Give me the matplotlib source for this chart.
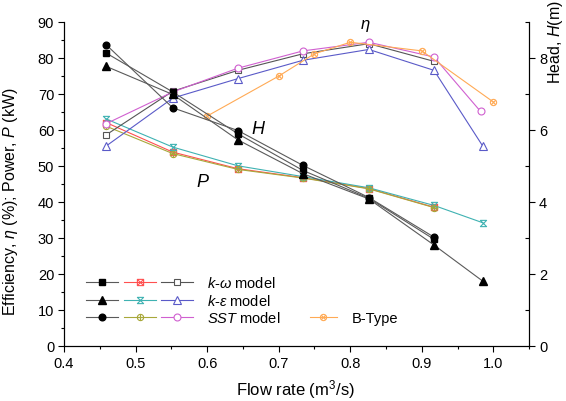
import matplotlib
matplotlib.use("Agg")
import matplotlib.pyplot as plt
from matplotlib.path import Path
from matplotlib.legend_handler import HandlerTuple
from matplotlib.ticker import MultipleLocator

plt.rcParams["font.family"] = ["Liberation Sans", "DejaVu Sans"]
plt.rcParams["mathtext.fontset"] = "custom"
plt.rcParams["mathtext.rm"] = "Liberation Sans"
plt.rcParams["mathtext.it"] = "Liberation Sans:italic"

# --- datos ---
q_kw = [0.459, 0.552, 0.643, 0.734, 0.826, 0.917]
q_ke = [0.459, 0.552, 0.643, 0.734, 0.826, 0.917, 0.985]
q_sst = [0.459, 0.552, 0.643, 0.734, 0.826, 0.917, 0.982]
q_btype = [0.60, 0.70, 0.75, 0.80, 0.90, 1.00]

head_kw = [8.13, 7.05, 5.89, 4.87, 4.10, 2.96]
head_ke = [7.76, 6.98, 5.72, 4.78, 4.08, 2.80, 1.80]
head_sst = [8.36, 6.61, 5.98, 5.01, 4.12, 3.02]

power_kw = [62.0, 53.8, 49.2, 46.7, 43.7, 38.5]
power_ke = [63.0, 55.2, 50.0, 47.0, 43.9, 39.0, 34.2]
power_sst = [61.0, 53.4, 49.0, 46.6, 43.6, 38.4]

eff_kw = [58.6, 70.7, 76.5, 81.1, 83.9, 79.0]
eff_ke = [55.5, 68.8, 74.2, 79.3, 82.3, 76.5, 55.5]
eff_sst = [61.7, 70.5, 77.1, 81.9, 84.3, 80.2, 65.1]
eff_btype = [63.8, 74.9, 81.1, 84.3, 81.9, 67.7]

# marcadores tipo Origin
M, L, C = Path.MOVETO, Path.LINETO, Path.CLOSEPOLY
box_x = Path([(-1, -1), (1, -1), (1, 1), (-1, 1), (-1, -1), (-1, -1), (1, 1), (-1, 1), (1, -1)],
             [M, L, L, L, C, M, L, M, L])
hourglass = Path([(-1, 1), (1, 1), (-1, -1), (1, -1), (-1, 1)], [M, L, L, L, C])
d = 0.7071
circ_plus = Path.make_compound_path(Path.unit_circle(), Path([(-1, 0), (1, 0)]), Path([(0, -1), (0, 1)]))
circ_x = Path.make_compound_path(Path.unit_circle(), Path([(-d, -d), (d, d)]), Path([(-d, d), (d, -d)]))

c_head = "#5a5a5a"
c_red = "#ff5050"
c_cyan = "#3fb2b2"
c_olive = "#a8a83a"
c_gray = "#555555"
c_blue = "#5a5ac8"
c_pink = "#d060d0"
c_orange = "#ffaa55"

lw = 0.8
ms = 4.5

fig = plt.figure(figsize=(5.66, 4.02), dpi=100)
ax = fig.add_axes([0.113, 0.137, 0.822, 0.8065])
ax2 = ax.twinx()

# potencia y eficiencia (eje izquierdo)
p1, = ax.plot(q_kw, power_kw, color=c_red, lw=lw, marker=box_x, ms=ms, mfc="none", mec=c_red, mew=0.8)
p2, = ax.plot(q_ke, power_ke, color=c_cyan, lw=lw, marker=hourglass, ms=ms, mfc="none", mec=c_cyan, mew=0.8)
p3, = ax.plot(q_sst[:6], power_sst, color=c_olive, lw=lw, marker=circ_plus, ms=ms, mfc="none", mec=c_olive, mew=0.8)

e1, = ax.plot(q_kw, eff_kw, color=c_gray, lw=lw, marker="s", ms=ms, mfc="white", mec=c_gray, mew=0.8)
e2, = ax.plot(q_ke, eff_ke, color=c_blue, lw=lw, marker="^", ms=ms + 0.8, mfc="white", mec=c_blue, mew=0.8)
e3, = ax.plot(q_sst, eff_sst, color=c_pink, lw=lw, marker="o", ms=ms + 0.5, mfc="white", mec=c_pink, mew=0.8)
eb, = ax.plot(q_btype, eff_btype, color=c_orange, lw=lw, marker=circ_x, ms=ms, mfc="none", mec=c_orange, mew=0.8)

# altura (eje derecho)
h1, = ax2.plot(q_kw, head_kw, color=c_head, lw=lw, marker="s", ms=ms, mfc="black", mec="black")
h2, = ax2.plot(q_ke, head_ke, color=c_head, lw=lw, marker="^", ms=ms + 0.8, mfc="black", mec="black")
h3, = ax2.plot(q_sst[:6], head_sst, color=c_head, lw=lw, marker="o", ms=ms + 0.3, mfc="black", mec="black")

ax.set_xlim(0.4, 1.05)
ax.set_ylim(0, 90)
ax2.set_ylim(0, 9)

ax.xaxis.set_major_locator(MultipleLocator(0.1))
ax.xaxis.set_minor_locator(MultipleLocator(0.05))
ax.yaxis.set_major_locator(MultipleLocator(10))
ax.yaxis.set_minor_locator(MultipleLocator(5))
ax2.yaxis.set_major_locator(MultipleLocator(2))
ax2.yaxis.set_minor_locator(MultipleLocator(1))
ax.xaxis.set_major_formatter(plt.FuncFormatter(lambda v, p: f"{v:.1f}"))

for a in (ax, ax2):
    a.spines["top"].set_visible(False)
    for s in a.spines.values():
        s.set_linewidth(0.8)
ax.tick_params(which="major", direction="out", length=4, width=0.8, labelsize=10.5, pad=3)
ax.tick_params(which="minor", direction="out", length=2, width=0.8)
ax2.tick_params(which="major", direction="out", length=4, width=0.8, labelsize=10.5, pad=3)
ax2.tick_params(which="minor", direction="in", length=3, width=0.8)

ax.set_xlabel("Flow rate (m$^3$/s)", fontsize=12)
ax.xaxis.set_label_coords(0.497, -0.095)
ax.set_ylabel(r"Efficiency, $\eta$ (%); Power, $P$ (kW)", fontsize=11.5)
ax.yaxis.set_label_coords(-0.094, 0.447)
ax2.set_ylabel(r"Head, $H$(m)", fontsize=11.5)
ax2.yaxis.set_label_coords(1.037, 0.94)

ax.text(0.821, 89.0, r"$\eta$", fontsize=12, ha="center", va="center")
ax.text(0.672, 60.3, r"$H$", fontsize=13, ha="center", va="center")
ax.text(0.594, 45.6, r"$P$", fontsize=13, ha="center", va="center")

leg1 = ax.legend([(h1, p1, e1), (h2, p2, e2), (h3, p3, e3)],
                 [r"$k$-$\omega$ model", r"$k$-$\varepsilon$ model", r"$SST$ model"],
                 handler_map={tuple: HandlerTuple(ndivide=None, pad=0.36)},
                 loc="lower left", bbox_to_anchor=(0.048, 0.065), frameon=False,
                 fontsize=10.5, handlelength=7.3, handletextpad=1.0, labelspacing=0.15,
                 borderaxespad=0, borderpad=0)
ax.add_artist(leg1)
ax.legend([eb], ["B-Type"], loc="lower left", bbox_to_anchor=(0.528, 0.065), frameon=False,
          fontsize=10.5, handlelength=1.9, handletextpad=1.0, borderaxespad=0, borderpad=0)

plt.savefig("out.png", dpi=100)
